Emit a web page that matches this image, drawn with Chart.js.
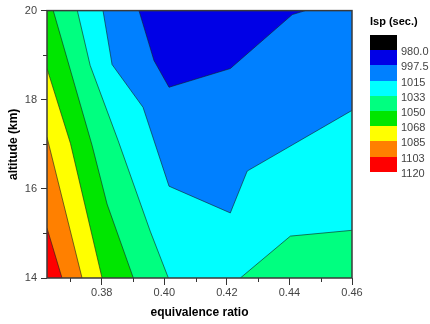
<!DOCTYPE html>
<html>
<head>
<meta charset="utf-8">
<script src="https://cdn.jsdelivr.net/npm/chart.js@4/dist/chart.umd.min.js"></script>
<style>
  body { margin: 0; background: #fff; font-family: "Liberation Sans", Arial, sans-serif; }
  #wrap { position: relative; width: 430px; height: 324px; }
  #legend { position: absolute; left: 0; top: 0; }
  .lg-title { position: absolute; left: 370px; top: 15px; font-size: 11px; font-weight: bold; line-height: 13px; color: #000; white-space: nowrap; }
  .lg-box { position: absolute; left: 370px; width: 27px; }
  .lg-label { position: absolute; left: 401px; font-size: 11px; line-height: 13px; color: #444; }
</style>
</head>
<body>
<div id="wrap">
  <canvas id="chart"></canvas>
  <div id="legend"></div>
</div>
<script>
// axis range and ticks
const xRange = [0.3625, 0.46];
const yRange = [14, 20];
const xTicks = [0.38, 0.40, 0.42, 0.44, 0.46];
const yTicks = [14, 16, 18, 20];
const xMinor = [0.37, 0.39, 0.41, 0.43, 0.45];
const yMinor = [15, 17, 19];

// contour levels (legend) and band colours, top of scale first
const legendLevels = ["980.0", "997.5", "1015", "1033", "1050", "1068", "1085", "1103", "1120"];
const bandColors = ["#000000", "#0000e6", "#0080ff", "#00ffff", "#00ff80", "#00e600", "#ffff00", "#ff8000", "#ff0000"];

// isolines: [equivalence ratio, altitude]
const iso997 = [[0.3919, 20], [0.3967, 18.88], [0.4015, 18.28], [0.4211, 18.70], [0.4409, 19.91], [0.4451, 20]];
const iso1015 = [[0.3804, 20], [0.3833, 18.79], [0.3932, 17.83], [0.4015, 16.06], [0.4211, 15.46], [0.4265, 16.40], [0.46, 17.76]];
const iso1033 = [[0.3722, 20], [0.3763, 18.77], [0.3852, 17.09], [0.3955, 15.05], [0.4013, 14]];
const iso1033b = [[0.4243, 14], [0.4403, 14.94], [0.46, 15.07]];
const iso1050 = [[0.3645, 20], [0.3769, 16.98], [0.3817, 15.66], [0.3901, 14]];
const iso1068 = [[0.3625, 18.70], [0.3700, 17.02], [0.3801, 14]];
const iso1085 = [[0.3625, 17.16], [0.3737, 14]];
const iso1103 = [[0.3625, 15.12], [0.3673, 14]];

const [x0, x1] = xRange;
const [y0, y1] = yRange;

const pts = arr => arr.map(([x, y]) => ({x, y}));

function band(points, color) {
    return {
        data: pts(points),
        backgroundColor: color,
        borderWidth: 0,
        fill: "shape",
        pointRadius: 0,
        tension: 0
    };
}

function isoline(points) {
    return {
        data: pts(points),
        borderColor: "rgba(20,30,30,0.85)",
        borderWidth: 0.7,
        fill: false,
        pointRadius: 0,
        tension: 0
    };
}

// painted bottom to top
const layers = [
    band([[x0, y0], [x0, y1], [x1, y1], [x1, y0]], bandColors[2]),
    band(iso997, bandColors[1]),
    band([...iso1015, [x1, y0], [x0, y0], [x0, y1]], bandColors[3]),
    band([...iso1033, [x0, y0], [x0, y1]], bandColors[4]),
    band([...iso1033b, [x1, y0]], bandColors[4]),
    band([...iso1050, [x0, y0], [x0, y1]], bandColors[5]),
    band([...iso1068, [x0, y0]], bandColors[6]),
    band([...iso1085, [x0, y0]], bandColors[7]),
    band([...iso1103, [x0, y0]], bandColors[8]),
    ...[iso997, iso1015, iso1033, iso1033b, iso1050, iso1068, iso1085, iso1103].map(isoline)
];

const frame = {
    id: "frame",
    afterDatasetsDraw(chart) {
        const {ctx, chartArea: a, scales} = chart;
        ctx.save();
        ctx.strokeStyle = "#333";
        ctx.lineWidth = 1;
        ctx.beginPath();
        xMinor.forEach(v => {
            const px = Math.round(scales.x.getPixelForValue(v)) + 0.5;
            ctx.moveTo(px, a.bottom); ctx.lineTo(px, a.bottom + 4);
        });
        yMinor.forEach(v => {
            const py = Math.round(scales.y.getPixelForValue(v)) + 0.5;
            ctx.moveTo(a.left, py); ctx.lineTo(a.left - 4, py);
        });
        ctx.stroke();
        ctx.lineWidth = 1.5;
        ctx.strokeStyle = "#3a3a3a";
        ctx.strokeRect(a.left, a.top, a.right - a.left, a.bottom - a.top);
        ctx.restore();
    }
};

const tickFont = {family: "'Liberation Sans', Arial, sans-serif", size: 11};
const titleFont = {family: "'Liberation Sans', Arial, sans-serif", size: 12, weight: "bold"};

new Chart(document.getElementById("chart"), {
    type: "line",
    data: {datasets: layers.reverse()},
    options: {
        responsive: true,
        maintainAspectRatio: false,
        animation: false,
        events: [],
        layout: {padding: {top: 10, right: 78, bottom: 0, left: 0}},
        plugins: {legend: {display: false}, tooltip: {enabled: false}},
        scales: {
            x: {
                type: "linear",
                min: x0, max: x1,
                afterBuildTicks: s => { s.ticks = xTicks.map(value => ({value})); },
                afterFit: s => { s.height = 46; },
                grid: {drawOnChartArea: false, tickLength: 7, tickColor: "#333"},
                border: {display: false},
                ticks: {font: tickFont, color: "#444", padding: 1, maxRotation: 0, callback: v => v.toFixed(2)},
                title: {display: true, text: "equivalence ratio", font: titleFont, color: "#000", padding: {top: 0, bottom: 4}}
            },
            y: {
                type: "linear",
                min: y0, max: y1,
                afterBuildTicks: s => { s.ticks = yTicks.map(value => ({value})); },
                afterFit: s => { s.width = 47; },
                grid: {drawOnChartArea: false, tickLength: 6, tickColor: "#333"},
                border: {display: false},
                ticks: {font: tickFont, color: "#444", padding: 4},
                title: {display: true, text: "altitude (km)", font: titleFont, color: "#000", padding: {top: 6, bottom: 0}}
            }
        }
    },
    plugins: [frame]
});

// legend: colour boxes with level labels at their lower edges
const legend = document.getElementById("legend");
const boxTop = 35, boxH = 15.2;
legend.innerHTML = `<div class="lg-title">Isp (sec.)</div>` +
    bandColors.map((c, i) => `<div class="lg-box" style="top:${boxTop + boxH * i}px;height:${boxH + 0.3}px;background:${c}"></div>`).join("") +
    legendLevels.map((t, i) => `<div class="lg-label" style="top:${boxTop + boxH * (i + 1) + 1.5 - 6.5}px">${t}</div>`).join("");
</script>
</body>
</html>
